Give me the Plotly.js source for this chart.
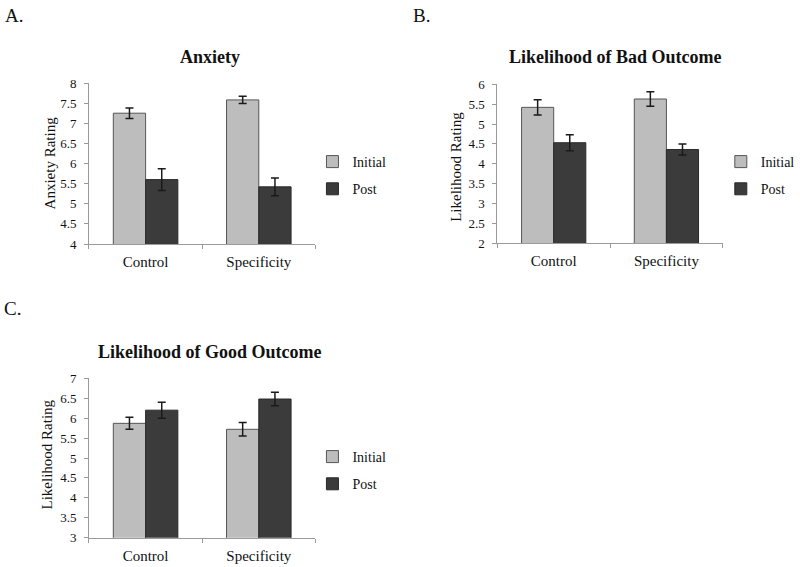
<!DOCTYPE html>
<html>
<head>
<meta charset="utf-8">
<script src="https://cdn.plot.ly/plotly-3.0.1.min.js"></script>
<style>html,body{margin:0;padding:0;background:#fff;}#chart{width:800px;height:567px;}</style>
</head>
<body>
<div id="chart"></div>
<script>
const categories = ["Control", "Specificity"];
const seriesNames = ["Initial", "Post"];

// Panel A: Anxiety
const anxietyInitial = [7.25, 7.58];
const anxietyInitialErr = [0.13, 0.09];
const anxietyPost = [5.60, 5.42];
const anxietyPostErr = [0.27, 0.22];

// Panel B: Likelihood of Bad Outcome
const badInitial = [5.42, 5.63];
const badInitialErr = [0.19, 0.18];
const badPost = [4.53, 4.36];
const badPostErr = [0.20, 0.14];

// Panel C: Likelihood of Good Outcome
const goodInitial = [5.87, 5.72];
const goodInitialErr = [0.15, 0.17];
const goodPost = [6.20, 6.48];
const goodPostErr = [0.20, 0.17];

const panelTitles = ["Anxiety", "Likelihood of Bad Outcome", "Likelihood of Good Outcome"];
const panelLetters = ["A.", "B.", "C."];
const yTitles = ["Anxiety Rating", "Likelihood Rating", "Likelihood Rating"];

const FONT = "Liberation Serif, Times New Roman, serif";
const colInitial = "#bdbdbd";
const colPost = "#3b3b3b";

function barTrace(name, y, err, ax, leg, color, lineColor) {
  return {
    type: "bar", name: name, x: categories, y: y,
    xaxis: "x" + ax, yaxis: "y" + ax,
    legend: leg, legendgroup: name + ax,
    marker: {color: color, line: {color: lineColor, width: 1}},
    error_y: {type: "data", array: err, visible: true, color: "#1a1a1a", thickness: 1.5, width: 4},
    hoverinfo: "skip"
  };
}

const data = [
  barTrace(seriesNames[0], anxietyInitial, anxietyInitialErr, "", "legend", colInitial, "#555"),
  barTrace(seriesNames[1], anxietyPost, anxietyPostErr, "", "legend", colPost, "#2a2a2a"),
  barTrace(seriesNames[0], badInitial, badInitialErr, "2", "legend2", colInitial, "#555"),
  barTrace(seriesNames[1], badPost, badPostErr, "2", "legend2", colPost, "#2a2a2a"),
  barTrace(seriesNames[0], goodInitial, goodInitialErr, "3", "legend3", colInitial, "#555"),
  barTrace(seriesNames[1], goodPost, goodPostErr, "3", "legend3", colPost, "#2a2a2a")
];

function xAxis(domain, anchor) {
  return {
    domain: domain, anchor: anchor, type: "category",
    showline: true, linecolor: "#9a9a9a", linewidth: 1,
    ticks: "outside", tickson: "boundaries", ticklen: 4, tickcolor: "#9a9a9a",
    showgrid: false, zeroline: false, fixedrange: true,
    tickfont: {family: FONT, size: 15, color: "#111"}, ticklabelstandoff: 4
  };
}
function yAxis(domain, anchor, range) {
  return {
    domain: domain, anchor: anchor, range: range, dtick: 0.5,
    showline: true, linecolor: "#9a9a9a", linewidth: 1,
    ticks: "outside", ticklen: 4, tickcolor: "#9a9a9a",
    showgrid: false, zeroline: false, fixedrange: true,
    tickfont: {family: FONT, size: 13, color: "#111"}, ticklabelstandoff: 5
  };
}
function legendAt(x, y) {
  return {
    x: x, y: y, xanchor: "left", yanchor: "top",
    bgcolor: "rgba(0,0,0,0)", font: {family: FONT, size: 14, color: "#111"},
    traceorder: "grouped", tracegroupgap: 6, itemwidth: 30
  };
}
function note(text, px, py, size, angle) {
  return {text: text, x: px/800, y: 1 - py/567, xref: "paper", yref: "paper",
          xanchor: "center", yanchor: "middle", showarrow: false, textangle: angle || 0,
          font: {family: FONT, size: size, color: "#111"}};
}

const xA = [90/800, 319/800], yA = [1 - 244/567, 1 - 83/567];
const xB = [503/800, 731/800], yB = [1 - 243.3/567, 1 - 84.3/567];
const xC = [90/800, 319/800], yC = [1 - 537.7/567, 1 - 378.3/567];

const layout = {
  width: 800, height: 567,
  margin: {l: 0, r: 0, t: 0, b: 0},
  paper_bgcolor: "#fff", plot_bgcolor: "#fff",
  barmode: "group", bargap: 0.43, bargroupgap: 0,
  font: {family: FONT, color: "#111"},
  xaxis: xAxis(xA, "y"), yaxis: yAxis(yA, "x", [4, 8]),
  xaxis2: xAxis(xB, "y2"), yaxis2: yAxis(yB, "x2", [2, 6]),
  xaxis3: xAxis(xC, "y3"), yaxis3: yAxis(yC, "x3", [3, 7]),
  legend: legendAt(316/800, 1 - 146/567),
  legend2: legendAt(729/800, 1 - 146/567),
  legend3: legendAt(316/800, 1 - 441/567),
  annotations: [
    note(panelLetters[0], 14, 15, 19),
    note(panelLetters[1], 426, 15, 19),
    note(panelLetters[2], 13, 308, 19),
    note("<b>" + panelTitles[0] + "</b>", 212, 57, 18),
    note("<b>" + panelTitles[1] + "</b>", 623, 57, 18),
    note("<b>" + panelTitles[2] + "</b>", 212, 352, 18),
    note(yTitles[0], 51, 163, 15, -90),
    note(yTitles[1], 461, 167, 15, -90),
    note(yTitles[2], 48, 454, 15, -90)
  ]
};

Plotly.newPlot("chart", data, layout, {displayModeBar: false, staticPlot: true});
</script>
</body>
</html>
